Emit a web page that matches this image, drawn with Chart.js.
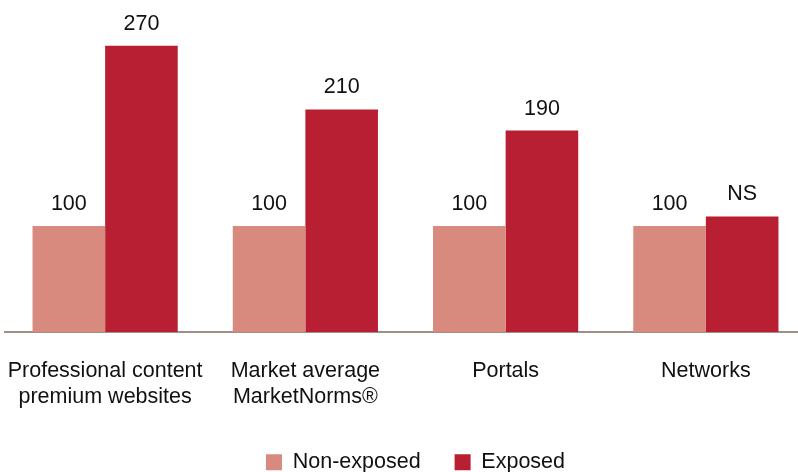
<!DOCTYPE html>
<html>
<head>
<meta charset="utf-8">
<script src="https://cdn.jsdelivr.net/npm/chart.js@4/dist/chart.umd.min.js"></script>
<style>
  html, body { margin: 0; padding: 0; background: #fff; overflow: hidden; }
  #wrap { width: 806px; height: 472px; }
</style>
</head>
<body>
<div id="wrap"><canvas id="chart"></canvas></div>
<script>
const categories = [
  ['Professional content', 'premium websites'],
  ['Market average', 'MarketNorms®'],
  'Portals',
  'Networks',
];
const nonExposed = [100, 100, 100, 100];
const exposed = [270, 210, 190, 109];
const nonExposedLabels = ['100', '100', '100', '100'];
const exposedLabels = ['270', '210', '190', 'NS'];

const fontFamily = '"Liberation Sans", Arial, Helvetica, sans-serif';

// draws the number above each bar
const barLabels = {
  id: 'barLabels',
  afterDatasetsDraw(chart) {
    const ctx = chart.ctx;
    const texts = [nonExposedLabels, exposedLabels];
    ctx.save();
    ctx.font = '21.5px ' + fontFamily;
    ctx.fillStyle = '#111';
    ctx.textAlign = 'center';
    ctx.textBaseline = 'middle';
    chart.data.datasets.forEach((ds, i) => {
      chart.getDatasetMeta(i).data.forEach((bar, j) => {
        ctx.fillText(texts[i][j], bar.x, bar.y - 22);
      });
    });
    ctx.restore();
  },
};

// nudge the legend a bit to the right, like the original
const legendShift = {
  id: 'legendShift',
  afterLayout(chart) {
    chart.legend.left += 10;
    chart.legend.right += 10;
  },
};

new Chart(document.getElementById('chart'), {
  type: 'bar',
  data: {
    labels: categories,
    datasets: [
      {
        label: 'Non-exposed',
        data: nonExposed,
        backgroundColor: '#D98A7E',
        categoryPercentage: 0.725,
        barPercentage: 1,
      },
      {
        label: 'Exposed',
        data: exposed,
        backgroundColor: '#B91F33',
        categoryPercentage: 0.725,
        barPercentage: 1,
      },
    ],
  },
  options: {
    responsive: true,
    maintainAspectRatio: false,
    animation: false,
    layout: { padding: { left: 5, top: 14, right: 0, bottom: -11 } },
    scales: {
      x: {
        grid: { display: false, drawTicks: true, tickLength: 24 },
        border: { color: '#9E9089', width: 2 },
        ticks: {
          color: '#111',
          padding: 3,
          maxRotation: 0,
          minRotation: 0,
          autoSkip: false,
          font: { family: fontFamily, size: 21.5, lineHeight: 1.17 },
        },
        afterFit(scale) {
          scale.height = 85.5;
          scale.paddingLeft = 0;
          scale.paddingRight = 0;
        },
      },
      y: {
        display: false,
        min: 0,
        max: 300,
      },
    },
    plugins: {
      legend: {
        position: 'bottom',
        labels: {
          color: '#111',
          boxWidth: 16,
          boxHeight: 16,
          padding: 34,
          font: { family: fontFamily, size: 21.5 },
        },
      },
      tooltip: { enabled: false },
    },
  },
  plugins: [barLabels, legendShift],
});
</script>
</body>
</html>
